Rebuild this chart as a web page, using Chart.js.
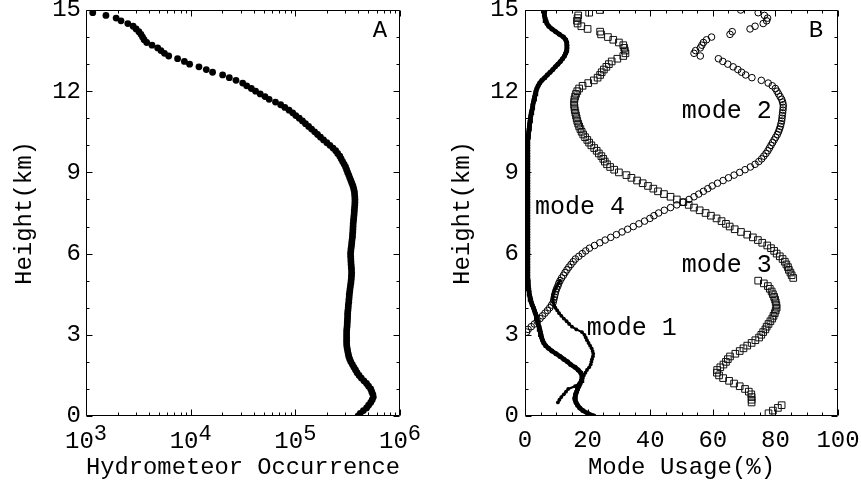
<!DOCTYPE html>
<html><head><meta charset="utf-8">
<script src="https://cdn.jsdelivr.net/npm/chart.js@4.4.0/dist/chart.umd.min.js"></script>
<style>
html,body{margin:0;padding:0;background:#fff;}
#wrap{position:relative;width:861px;height:482px;overflow:hidden;background:#fff;}
canvas{position:absolute;top:0;}
#ca{left:0;} #cb{left:430px;}
</style></head><body>
<div id="wrap"><canvas id="ca" width="430" height="482"></canvas><canvas id="cb" width="431" height="482"></canvas></div>
<script>
// Heights (km), one per level
const heights = [
0,0.1,0.2,0.3,0.4,0.5,0.6,0.7,0.8,0.9,
1,1.1,1.2,1.3,1.4,1.5,1.6,1.7,1.8,1.9,
2,2.1,2.2,2.3,2.4,2.5,2.6,2.7,2.8,2.9,
3,3.1,3.2,3.3,3.4,3.5,3.6,3.7,3.8,3.9,
4,4.1,4.2,4.3,4.4,4.5,4.6,4.7,4.8,4.9,
5,5.1,5.2,5.3,5.4,5.5,5.6,5.7,5.8,5.9,
6,6.1,6.2,6.3,6.4,6.5,6.6,6.7,6.8,6.9,
7,7.1,7.2,7.3,7.4,7.5,7.6,7.7,7.8,7.9,
8,8.1,8.2,8.3,8.4,8.5,8.6,8.7,8.8,8.9,
9,9.1,9.2,9.3,9.4,9.5,9.6,9.7,9.8,9.9,
10,10.1,10.2,10.3,10.4,10.5,10.6,10.7,10.8,10.9,
11,11.1,11.2,11.3,11.4,11.5,11.6,11.7,11.8,11.9,
12,12.1,12.2,12.3,12.4,12.5,12.6,12.7,12.8,12.9,
13,13.1,13.2,13.3,13.4,13.5,13.6,13.7,13.8,13.9,
14,14.1,14.2,14.3,14.4,14.5,14.6,14.7,14.8,14.9,
15];

// Panel A: hydrometeor occurrence
const hydrometeorOccurrence = [
3.98e5,4.17e5,4.47e5,4.79e5,5.01e5,5.25e5,5.43e5,5.56e5,5.50e5,5.37e5,
5.25e5,5.01e5,4.79e5,4.52e5,4.27e5,4.07e5,3.89e5,3.76e5,3.63e5,3.51e5,
3.39e5,3.31e5,3.24e5,3.20e5,3.16e5,3.13e5,3.10e5,3.09e5,3.09e5,3.09e5,
3.09e5,3.09e5,3.10e5,3.12e5,3.13e5,3.14e5,3.15e5,3.16e5,3.16e5,3.18e5,
3.20e5,3.21e5,3.24e5,3.25e5,3.27e5,3.28e5,3.31e5,3.33e5,3.36e5,3.39e5,
3.41e5,3.43e5,3.44e5,3.45e5,3.44e5,3.43e5,3.41e5,3.40e5,3.39e5,3.38e5,
3.37e5,3.39e5,3.41e5,3.44e5,3.46e5,3.48e5,3.51e5,3.52e5,3.54e5,3.55e5,
3.56e5,3.57e5,3.59e5,3.61e5,3.63e5,3.65e5,3.66e5,3.68e5,3.70e5,3.71e5,
3.71e5,3.70e5,3.68e5,3.66e5,3.61e5,3.55e5,3.47e5,3.39e5,3.31e5,3.24e5,
3.16e5,3.09e5,3.02e5,2.93e5,2.83e5,2.74e5,2.66e5,2.54e5,2.43e5,2.29e5,
2.14e5,2.00e5,1.86e5,1.74e5,1.63e5,1.53e5,1.43e5,1.34e5,1.25e5,1.17e5,
1.09e5,1.01e5,9.44e4,8.71e4,7.94e4,7.24e4,6.46e4,5.62e4,5.13e4,4.62e4,
4.17e4,3.80e4,3.43e4,3.14e4,2.71e4,2.34e4,2.02e4,1.62e4,1.41e4,1.20e4,
9.77e3,8.71e3,7.50e3,6.17e3,5.62e3,5.20e3,4.84e3,4.27e3,3.80e3,3.59e3,
3.47e3,3.35e3,3.20e3,3.01e3,2.82e3,2.51e3,2.16e3,1.94e3,1.55e3,1.16e3,
null];

// Panel B: mode usage (%)
const mode4 = [
22,20,18.5,17.5,16.8,16.3,16,16,16.2,16.5,
16.8,17.2,17.6,18,18.2,18.2,17.8,17,16,14.6,
13.6,12.4,11.2,9.9,8.6,7.5,6.6,6.0,5.6,5.3,
5.1,4.9,4.7,4.5,4.2,4.0,3.8,3.6,3.3,3.0,
2.7,2.3,2.0,1.8,1.6,1.4,1.3,1.2,1.1,1.0,
1.0,0.9,0.9,0.9,0.9,0.9,0.9,0.9,0.9,0.9,
0.9,0.9,0.9,0.9,0.9,0.9,0.9,0.9,0.9,0.9,
0.9,0.9,0.9,0.9,0.9,0.9,0.9,0.9,0.9,0.9,
0.9,0.9,0.9,0.9,0.9,0.9,0.9,0.9,0.9,0.9,
0.9,0.9,0.9,0.9,0.9,0.9,0.9,0.9,0.9,0.9,
0.9,0.9,0.9,1.0,1.1,1.2,1.3,1.4,1.5,1.6,
1.7,1.9,2.0,2.2,2.4,2.5,2.7,2.9,3.1,3.3,
3.5,3.8,4.2,4.7,5.4,6.3,7.1,8.0,8.9,9.7,
10.5,11.3,12.0,12.6,13.0,13.3,13.4,13.4,13.3,13.0,
12.3,11.0,9.8,8.6,7.6,7.0,6.7,6.4,6.2,6.2,
6.4];

const mode1 = [
null,null,null,null,null,10.5,11.0,11.6,12.4,13.1,
13.8,16.0,17.3,18.0,18.4,18.8,19.3,19.8,20.5,21.0,
21.2,21.4,21.7,21.8,21.6,21.3,20.8,20.3,19.8,19.4,
19.0,18.2,16.4,15.0,14.1,13.3,12.4,11.6,10.9,10.3,
9.7,9.3,9.0,8.9,8.9,9.0,9.3,9.7,10.2,10.7,
11.2,null,null,null,null,null,null,null,null,null,
null,null,null,null,null,null,null,null,null,null,
null,null,null,null,null,null,null,null,null,null,
null,null,null,null,null,null,null,null,null,null,
null,null,null,null,null,null,null,null,null,null,
null,null,null,null,null,null,null,null,null,null,
null,null,null,null,null,null,null,null,null,null,
null,null,null,null,null,null,null,null,null,null,
null,null,null,null,null,null,null,null,null,null,
null,null,null,null,null,null,null,null,null,null,
null];

const mode2 = [
null,null,null,null,null,null,null,null,null,null,
null,null,null,null,null,null,null,null,null,null,
null,null,null,null,null,null,null,null,null,null,
null,0.5,1.0,2.0,3.0,3.9,4.8,5.6,6.4,7.2,
7.9,8.5,9.0,9.2,9.4,9.6,9.8,10.1,10.5,10.8,
11.2,11.7,12.3,12.8,13.4,14.0,14.7,15.4,16.1,17.2,
18.3,19.4,20.6,22.2,23.9,25.6,27.4,29.2,31.0,32.8,
34.6,36.4,38.2,39.9,41.2,42.7,44.5,46.5,48.5,50.5,
52.4,54.0,55.5,57.0,58.4,59.8,61.5,63.3,65.0,66.8,
68.6,70.3,72.0,73.5,74.7,75.6,76.3,77.0,77.6,78.1,
78.6,79.1,79.6,80.1,80.6,81.0,81.3,81.6,81.8,82.0,
82.1,82.2,82.3,82.4,82.5,82.5,82.3,82.0,81.5,81.0,
80.5,80.0,79.0,77.7,75.5,72.5,70.5,69.2,68.0,66.5,
64.8,63.2,61.8,56.0,54.0,54.5,56.0,56.5,57.0,58.0,
59.6,65.5,66.2,71.9,73.5,76.1,77.2,77.5,76.5,74.5,
68.9];

const mode3 = [
null,77.8,79.2,80.8,82.0,72.4,72.4,72.4,72.3,71.5,
70.3,68.6,66.8,65.2,63.3,62.0,61.3,61.4,62.4,63.4,
64.2,64.8,65.5,67.2,68.6,69.8,71.0,72.4,73.6,74.8,
75.5,76.1,76.8,77.2,77.8,78.4,79.0,79.4,79.8,80.1,
80.4,80.3,80.1,79.9,79.6,79.2,78.8,78.2,77.6,76.3,
74.5,85.7,85.2,84.8,84.3,84.0,83.5,83.0,82.3,81.4,
80.4,79.6,78.6,77.4,75.8,74.4,72.8,71.0,69.0,67.0,
65.4,64.2,62.8,61.2,59.4,57.7,55.8,54.0,52.3,50.6,
48.5,46.5,44.4,42.5,41.0,39.3,37.6,35.8,34.0,32.4,
30.0,28.5,27.2,26.2,25.5,25.0,24.4,23.6,22.9,22.1,
21.2,20.5,19.9,19.2,18.6,18.1,17.7,17.3,17.0,16.7,
16.5,16.3,16.1,15.9,15.8,15.7,15.7,15.8,16.0,16.3,
16.7,17.3,18.4,20.2,22.0,23.2,24.0,24.5,25.2,26.0,
26.8,27.7,29.5,31.4,32.1,31.9,31.7,31.4,30.0,28.2,
26.5,24.3,24.0,20.0,18.0,16.8,16.6,16.8,17.0,20.5,
23.9];

// Tick positions and labels
const yMajorTicks = [0,3,6,9,12,15];
const yMinorTicks = [1,2,4,5,7,8,10,11,13,14];
const xDecadesA = [3,4,5,6];
const xMinorA = [2e3,3e3,4e3,5e3,6e3,7e3,8e3,9e3,2e4,3e4,4e4,5e4,6e4,7e4,8e4,9e4,2e5,3e5,4e5,5e5,6e5,7e5,8e5,9e5];
const xMajorB = [0,20,40,60,80,100];
const xMinorB = [5,10,15,25,30,35,45,50,55,65,70,75,85,90,95];

// Text annotations for panel B (data coordinates)
const modeLabels = ['mode 1','mode 2','mode 3','mode 4'];
const modeLabelX = [19.7,50.1,50.1,3.2];
const modeLabelY = [3.0,11.0,5.33,7.48];

const FONT = "'Liberation Mono', 'Courier New', monospace";
Chart.defaults.font.family = FONT;
Chart.defaults.color = '#000';

const toPts = vals => heights.map((h,i) => vals[i] == null ? null : {x: vals[i], y: h}).filter(p => p);

function frameTicks(chart, xMaj, xMin) {
  const {ctx, chartArea: a} = chart;
  const xs = chart.scales.x, ys = chart.scales.y;
  const L = a.left + 0.5, R = a.right - 0.5, T = a.top + 0.5, B = a.bottom - 0.5;
  ctx.save();
  ctx.strokeStyle = '#000';
  ctx.lineWidth = 1;
  ctx.beginPath();
  ctx.rect(L, T, R - L, B - T);
  const xt = (v, len) => {
    const X = Math.round(xs.getPixelForValue(v)) + 0.5;
    ctx.moveTo(X, B); ctx.lineTo(X, B - len);
    ctx.moveTo(X, T); ctx.lineTo(X, T + len);
  };
  const yt = (v, len) => {
    const Y = Math.round(ys.getPixelForValue(v)) + 0.5;
    ctx.moveTo(L, Y); ctx.lineTo(L + len, Y);
    ctx.moveTo(R, Y); ctx.lineTo(R - len, Y);
  };
  xMaj.forEach(v => xt(v, 6));
  xMin.forEach(v => xt(v, 3));
  yMajorTicks.forEach(v => yt(v, 6));
  yMinorTicks.forEach(v => yt(v, 3));
  ctx.stroke();
  ctx.restore();
}

const pluginA = {
  id: 'panelA',
  beforeDatasetsDraw(chart) {
    frameTicks(chart, xDecadesA.map(n => Math.pow(10, n)), xMinorA);
  },
  afterDraw(chart) {
    const {ctx, chartArea: a} = chart;
    const xs = chart.scales.x;
    ctx.save();
    ctx.fillStyle = '#000';
    ctx.textAlign = 'left';
    ctx.textBaseline = 'alphabetic';
    const big = "24px " + FONT, small = "22px " + FONT;
    xDecadesA.forEach(n => {
      const p = xs.getPixelForValue(Math.pow(10, n));
      ctx.font = big; const w1 = ctx.measureText('10').width;
      ctx.font = small; const w2 = ctx.measureText(String(n)).width;
      const s = p - (w1 + w2) / 2;
      ctx.font = big; ctx.fillText('10', s, a.bottom + 32);
      ctx.font = small; ctx.fillText(String(n), s + w1, a.bottom + 24);
    });
    ctx.font = "24px " + FONT;
    ctx.textAlign = 'center';
    ctx.fillText('A', a.right - 20, a.top + 27);
    ctx.restore();
  }
};

const pluginB = {
  id: 'panelB',
  beforeDatasetsDraw(chart) {
    frameTicks(chart, xMajorB, xMinorB);
  },
  afterDraw(chart) {
    const {ctx, chartArea: a} = chart;
    const xs = chart.scales.x, ys = chart.scales.y;
    ctx.save();
    ctx.fillStyle = '#000';
    ctx.textBaseline = 'alphabetic';
    ctx.textAlign = 'left';
    ctx.font = "25px " + FONT;
    modeLabels.forEach((t, i) => {
      ctx.fillText(t, xs.getPixelForValue(modeLabelX[i]), ys.getPixelForValue(modeLabelY[i]));
    });
    ctx.font = "24px " + FONT;
    ctx.textAlign = 'center';
    ctx.fillText('B', a.right - 22, a.top + 27);
    ctx.restore();
  }
};

const noPad = s => { s.paddingTop = 0; s.paddingBottom = 0; s.paddingLeft = 0; s.paddingRight = 0; };

new Chart(document.getElementById('ca'), {
  type: 'scatter',
  data: { datasets: [{
    data: toPts(hydrometeorOccurrence),
    pointRadius: 3.4, pointBackgroundColor: '#000', pointBorderWidth: 0, pointHoverRadius: 3.4
  }]},
  options: {
    responsive: false, animation: false, devicePixelRatio: 1,
    events: [],
    layout: { padding: { left: 4, top: 10, right: 30, bottom: 0 } },
    plugins: { legend: { display: false }, tooltip: { enabled: false } },
    scales: {
      x: {
        type: 'logarithmic', min: 1e3, max: 1e6,
        grid: { display: false, drawTicks: false }, border: { display: false },
        ticks: { display: false },
        title: { display: true, text: 'Hydrometeor Occurrence', font: { size: 24 }, padding: { top: 0, bottom: 0 } },
        afterFit: s => { s.height = 66; noPad(s); }
      },
      y: {
        min: 0, max: 15,
        grid: { display: false, drawTicks: false }, border: { display: false },
        ticks: { stepSize: 3, font: { size: 24 }, padding: 5 },
        title: { display: true, text: 'Height(km)', font: { size: 24 }, padding: { top: 6, bottom: 0 } },
        afterFit: s => { s.width = 82; noPad(s); }
      }
    }
  },
  plugins: [pluginA]
});

new Chart(document.getElementById('cb'), {
  type: 'scatter',
  data: { datasets: [
    { label: 'mode 4', data: toPts(mode4), showLine: true, borderColor: '#000', borderWidth: 4.5,
      pointRadius: 2.5, pointBackgroundColor: '#000', pointBorderWidth: 0 },
    { label: 'mode 1', data: toPts(mode1), showLine: true, borderColor: '#000', borderWidth: 2.2,
      pointRadius: 1.9, pointBackgroundColor: '#000', pointBorderWidth: 0 },
    { label: 'mode 2', data: toPts(mode2), pointStyle: 'circle', pointRadius: 3.3,
      pointBackgroundColor: 'rgba(0,0,0,0)', pointBorderColor: '#000', pointBorderWidth: 1 },
    { label: 'mode 3', data: toPts(mode3), pointStyle: 'rect', pointRadius: 4.7,
      pointBackgroundColor: 'rgba(0,0,0,0)', pointBorderColor: '#111', pointBorderWidth: 1 }
  ]},
  options: {
    responsive: false, animation: false, devicePixelRatio: 1,
    events: [],
    layout: { padding: { left: 12, top: 10, right: 23, bottom: 0 } },
    plugins: { legend: { display: false }, tooltip: { enabled: false } },
    scales: {
      x: {
        min: 0, max: 100,
        grid: { display: false, drawTicks: false }, border: { display: false },
        ticks: { stepSize: 20, font: { size: 24 }, padding: 10, maxRotation: 0 },
        title: { display: true, text: 'Mode Usage(%)', font: { size: 24 }, padding: { top: 0, bottom: 0 } },
        afterFit: s => { s.height = 66; noPad(s); }
      },
      y: {
        min: 0, max: 15,
        grid: { display: false, drawTicks: false }, border: { display: false },
        ticks: { stepSize: 3, font: { size: 24 }, padding: 6 },
        title: { display: true, text: 'Height(km)', font: { size: 24 }, padding: { top: 6, bottom: 0 } },
        afterFit: s => { s.width = 83; noPad(s); }
      }
    }
  },
  plugins: [pluginB]
});
</script>
</body></html>
